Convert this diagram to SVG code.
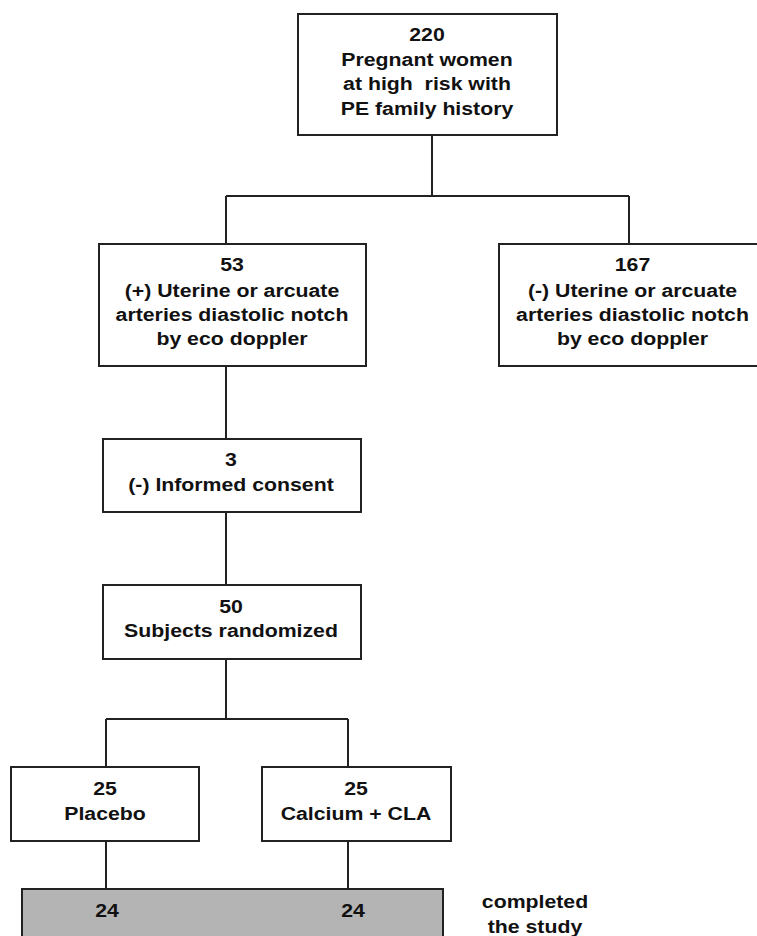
<svg xmlns="http://www.w3.org/2000/svg" width="757" height="936" viewBox="0 0 757 936">
<style>
.box{fill:#fff;stroke:#222;stroke-width:2}
.grey{fill:#b4b4b4;stroke:#222;stroke-width:2}
.ln{fill:none;stroke:#222;stroke-width:2}
.t{font-family:"Liberation Sans",Arial,Helvetica,sans-serif;font-weight:bold;font-size:19px;fill:#111;text-anchor:middle;white-space:pre}
</style>
<rect width="757" height="936" fill="#fff"/>
<g id="connectors">
<path class="ln" d="M432 135V196M226 196H629M226 196V244M629 196V244"/>
<path class="ln" d="M226 366V439M226 512V585"/>
<path class="ln" d="M226 659V719M106 719H348M106 719V767M348 719V767"/>
<path class="ln" d="M106 841V889M348 841V889"/>
</g>
<g id="n220">
<rect class="box" x="298" y="14" width="259" height="121"/>
<text class="t" transform="translate(427 0) scale(1.12 1)"><tspan x="0" y="41">220</tspan><tspan x="0" y="66">Pregnant women</tspan><tspan x="0" y="90">at high  risk with</tspan><tspan x="0" y="115">PE family history</tspan></text>
</g>
<g id="n53">
<rect class="box" x="99" y="244" width="267" height="122"/>
<text class="t" transform="translate(232 0) scale(1.12 1)"><tspan x="0" y="271">53</tspan><tspan x="0" y="297">(+) Uterine or arcuate</tspan><tspan x="0" y="321">arteries diastolic notch</tspan><tspan x="0" y="345">by eco doppler</tspan></text>
</g>
<g id="n167">
<rect class="box" x="499" y="244" width="267" height="122"/>
<text class="t" transform="translate(632.5 0) scale(1.12 1)"><tspan x="0" y="271">167</tspan><tspan x="0" y="297">(-) Uterine or arcuate</tspan><tspan x="0" y="321">arteries diastolic notch</tspan><tspan x="0" y="345">by eco doppler</tspan></text>
</g>
<g id="n3">
<rect class="box" x="103" y="439" width="258" height="73"/>
<text class="t" transform="translate(231 0) scale(1.12 1)"><tspan x="0" y="466">3</tspan><tspan x="0" y="491">(-) Informed consent</tspan></text>
</g>
<g id="n50">
<rect class="box" x="103" y="585" width="258" height="74"/>
<text class="t" transform="translate(231 0) scale(1.12 1)"><tspan x="0" y="613">50</tspan><tspan x="0" y="637">Subjects randomized</tspan></text>
</g>
<g id="placebo">
<rect class="box" x="11" y="767" width="188" height="74"/>
<text class="t" transform="translate(105 0) scale(1.12 1)"><tspan x="0" y="795">25</tspan><tspan x="0" y="820">Placebo</tspan></text>
</g>
<g id="calcium">
<rect class="box" x="262" y="767" width="189" height="74"/>
<text class="t" transform="translate(356 0) scale(1.12 1)"><tspan x="0" y="795">25</tspan><tspan x="0" y="820">Calcium + CLA</tspan></text>
</g>
<g id="completed">
<rect class="grey" x="22" y="889" width="421" height="60"/>
<text class="t" transform="translate(107 0) scale(1.12 1)"><tspan x="0" y="917">24</tspan></text>
<text class="t" transform="translate(353 0) scale(1.12 1)"><tspan x="0" y="917">24</tspan></text>
</g>
<g id="completed-label">
<text class="t" transform="translate(535 0) scale(1.12 1)"><tspan x="0" y="908">completed</tspan><tspan x="0" y="933">the study</tspan></text>
</g>
</svg>
